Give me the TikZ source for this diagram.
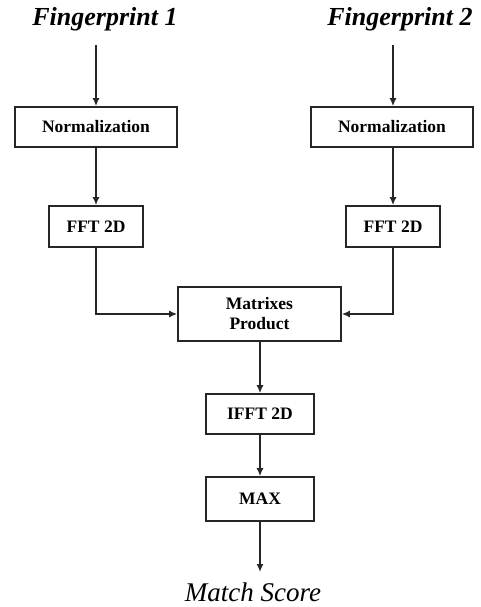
\documentclass[tikz,border=0pt]{standalone}
\usepackage{fontspec}
\setmainfont{Liberation Serif}
\usetikzlibrary{arrows.meta}

\begin{document}
\begin{tikzpicture}[x=1pt, y=-1pt, line width=1.6pt, draw=black!85,
  box/.style={draw, inner sep=0pt, font=\fontsize{17.5}{20}\selectfont\bfseries, align=center},
  flow/.style={-{Latex[length=8pt, width=7pt]}},
  title/.style={font=\fontsize{26}{30}\selectfont\bfseries\itshape}]
  \useasboundingbox (0,0) rectangle (480,607);
  % inputs
  \node[title] (fp1) at (105,19) {Fingerprint 1};
  \node[title] (fp2) at (400,19) {Fingerprint 2};
  \coordinate (in1) at (96,45);
  \coordinate (in2) at (393,45);
  % left branch
  \node[box, minimum width=162pt, minimum height=40pt] (norm1) at (96,127) {Normalization};
  \node[box, minimum width=94pt, minimum height=41pt] (fft1) at (96,226.5) {FFT 2D};
  % right branch
  \node[box, minimum width=162pt, minimum height=40pt] (norm2) at (392,127) {Normalization};
  \node[box, minimum width=94pt, minimum height=41pt] (fft2) at (393,226.5) {FFT 2D};
  % common part
  \node[box, minimum width=163pt, minimum height=54pt] (prod) at (259.5,314) {Matrixes\\Product};
  \node[box, minimum width=108pt, minimum height=40pt] (ifft) at (260,414) {IFFT 2D};
  \node[box, minimum width=108pt, minimum height=44pt] (max) at (260,499) {MAX};
  \coordinate (out) at (260,572);
  \node[inner sep=0pt, font=\fontsize{27}{30}\selectfont\itshape] (score) at (253,592) {Match Score};
  % connectors
  \draw[flow] (in1) -- (norm1);
  \draw[flow] (in2) -- (norm2.north -| in2);
  \draw[flow] (norm1) -- (fft1);
  \draw[flow] (norm2.south -| fft2) -- (fft2);
  \draw[flow] (fft1.south) |- (prod.west);
  \draw[flow] (fft2.south) |- (prod.east);
  \draw[flow] (prod.south -| ifft) -- (ifft);
  \draw[flow] (ifft) -- (max);
  \draw[flow] (max.south) -- (out);
\end{tikzpicture}
\end{document}
